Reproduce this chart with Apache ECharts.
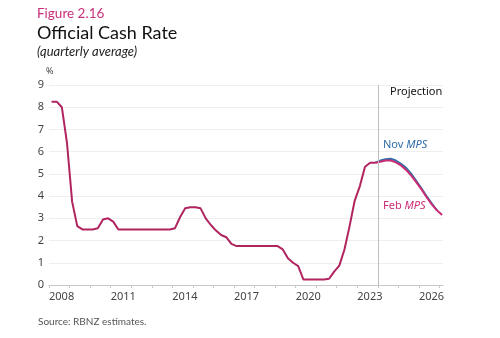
<!DOCTYPE html>
<html>
<head>
<meta charset="utf-8">
<script src="https://cdn.jsdelivr.net/npm/echarts@6/dist/echarts.min.js"></script>
<style>
html,body{margin:0;padding:0;background:#fff;}
#chart{width:500px;height:338px;}
</style>
</head>
<body>
<div id="chart"></div>
<script>
// Quarterly average OCR, history 2008Q1 - 2023Q4
const historyStart = 2008;
const historyValues = [
  8.25, 8.25, 8.0, 6.4,
  3.75, 2.65, 2.5, 2.5,
  2.5, 2.55, 2.95, 3.0,
  2.85, 2.5, 2.5, 2.5,
  2.5, 2.5, 2.5, 2.5,
  2.5, 2.5, 2.5, 2.5,
  2.55, 3.05, 3.45, 3.5,
  3.5, 3.45, 3.0, 2.7,
  2.45, 2.25, 2.15, 1.85,
  1.75, 1.75, 1.75, 1.75,
  1.75, 1.75, 1.75, 1.75,
  1.75, 1.6, 1.2, 1.0,
  0.85, 0.25, 0.25, 0.25,
  0.25, 0.25, 0.28, 0.6,
  0.87, 1.6, 2.65, 3.8,
  4.45, 5.32, 5.5, 5.5
];
// Projections, starting at 2023Q4
const projectionStart = ['2023', 4];
const novMPS = [5.5, 5.6, 5.66, 5.68, 5.6, 5.45, 5.27, 5.0, 4.68, 4.34, 3.99, 3.66, 3.36];
const febMPS = [5.5, 5.55, 5.6, 5.6, 5.52, 5.38, 5.18, 4.92, 4.62, 4.3, 3.95, 3.63, 3.36, 3.15];
const yearTicks = [2008, 2011, 2014, 2017, 2020, 2023, 2026];
const projectionLineAt = 2024;

function qx(year, q) { return year + (q - 0.5) / 4; }
function toPairs(startYear, startQ, vals) {
  return vals.map((v, i) => {
    const idx = (startQ - 1) + i;
    return [qx(startYear + Math.floor(idx / 4), (idx % 4) + 1), v];
  });
}
const histData = toPairs(historyStart, 1, historyValues);
const novData = toPairs(+projectionStart[0], projectionStart[1], novMPS);
const febData = toPairs(+projectionStart[0], projectionStart[1], febMPS);

const HIST = '#b0245f', FEB = '#cc2c74', NOV = '#2f6eaa';
const chart = echarts.init(document.getElementById('chart'));
chart.setOption({
  animation: false,
  backgroundColor: '#fff',
  grid: { left: 49, right: 57, top: 85, bottom: 53 },
  xAxis: {
    type: 'value', min: 2008, max: 2027.17, interval: 1,
    axisLine: { lineStyle: { color: '#c8c8c8' } },
    axisTick: { show: true, length: 3, lineStyle: { color: '#c8c8c8' } },
    splitLine: { show: false },
    axisLabel: {
      align: 'left', margin: 6, color: '#444', fontSize: 11,
      fontFamily: 'Noto Sans', showMaxLabel: false,
      formatter: v => yearTicks.indexOf(Math.round(v)) >= 0 && Math.abs(v - Math.round(v)) < 1e-6 ? String(Math.round(v)) : ''
    }
  },
  yAxis: {
    type: 'value', min: 0, max: 9, interval: 1,
    axisLine: { show: false }, axisTick: { show: false },
    splitLine: { lineStyle: { color: '#efefef' } },
    axisLabel: { color: '#444', fontSize: 11, fontFamily: 'Noto Sans', margin: 5 }
  },
  series: [
    { type: 'line', data: novData, showSymbol: false, lineStyle: { color: NOV, width: 2 }, z: 2,
      markLine: { silent: true, symbol: 'none', label: { show: false },
        lineStyle: { color: '#bdbdbd', width: 1, type: 'solid' }, data: [{ xAxis: projectionLineAt }] } },
    { type: 'line', data: febData, showSymbol: false, lineStyle: { color: FEB, width: 2 }, z: 3 },
    { type: 'line', data: histData, showSymbol: false, lineStyle: { color: HIST, width: 2 }, z: 4 }
  ],
  graphic: [
    { type: 'text', left: 37, top: 7, style: { text: 'Figure 2.16', font: '13.5px Lato', fill: '#c8307a' } },
    { type: 'text', left: 37, top: 24, style: { text: 'Official Cash Rate', font: '18px Lato', fill: '#111' } },
    { type: 'text', left: 37, top: 45, style: { text: '(quarterly average)', font: 'italic 13px Lato', fill: '#222' } },
    { type: 'text', left: 46, top: 67, style: { text: '%', font: '9px Noto Sans', fill: '#444' } },
    { type: 'text', left: 390, top: 86, style: { text: 'Projection', font: '11px Noto Sans', fill: '#111' } },
    { type: 'text', left: 383, top: 139, style: { text: '{a|Nov }{b|MPS}', rich: {
      a: { font: '11px Noto Sans', fill: NOV, color: NOV }, b: { font: 'italic 11px Noto Sans', fill: NOV, color: NOV } } } },
    { type: 'text', left: 383, top: 200, style: { text: '{a|Feb }{b|MPS}', rich: {
      a: { font: '11px Noto Sans', fill: FEB, color: FEB }, b: { font: 'italic 11px Noto Sans', fill: FEB, color: FEB } } } },
    { type: 'text', left: 38, top: 317, style: { text: 'Source: RBNZ estimates.', font: '10px Lato', fill: '#555' } }
  ]
});
</script>
</body>
</html>
